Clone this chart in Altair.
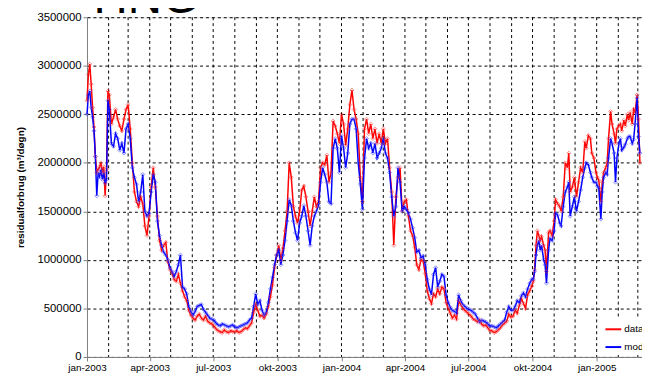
import altair as alt
import pandas as pd

# day offsets from 2003-01-01
days = [0, 2, 4, 6, 8, 10, 12, 14, 16, 18, 20, 22, 24, 26, 28, 30,
        32, 35, 38, 41, 44, 47, 50, 53, 56, 59,
        62, 65, 68, 71, 74, 77, 80, 83, 86, 89,
        92, 95, 98, 101, 104, 107, 110, 113, 116, 119,
        122, 125, 128, 131, 134, 137, 140, 143, 146, 149,
        152, 155, 158, 161, 164, 167, 170, 173, 176, 179,
        182, 185, 188, 191, 194, 197, 200, 203, 206, 209,
        212, 215, 218, 221, 224, 227, 230, 233, 236, 239, 242,
        245, 248, 251, 254, 257, 260, 263, 266, 269, 272,
        275, 278, 281, 284, 287, 290, 293, 296, 299, 302,
        305, 308, 311, 314, 317, 320, 323, 326, 329, 332,
        335, 338, 341, 344, 347, 350, 353, 356, 359, 362,
        365, 368, 371, 374, 377, 380, 383, 386, 389, 392, 395,
        398, 401, 404, 407, 410, 413, 416, 419, 422,
        425, 428, 431, 434, 437, 440, 443, 446, 449, 452, 455,
        458, 461, 464, 467, 470, 473, 476, 479, 482, 485,
        488, 491, 494, 497, 500, 503, 506, 509, 512, 515,
        518, 521, 524, 527, 530, 533, 536, 539, 542, 545,
        548, 551, 554, 557, 560, 563, 566, 569, 572, 575,
        578, 581, 584, 587, 590, 593, 596, 599, 602, 605, 608,
        611, 614, 617, 620, 623, 626, 629, 632, 635, 638,
        640, 642, 644, 646, 648, 650, 652, 655, 657, 659, 662, 664, 667, 670,
        672, 675, 678, 680, 683, 686, 689, 691, 693, 696, 699,
        702, 705, 708, 711, 714, 716, 719, 722, 724, 727, 730,
        732, 734, 737, 739, 741, 744, 746, 748, 751, 753, 756, 758, 760,
        763, 765, 767, 770, 772, 775, 777, 779, 782, 784, 786, 789, 791, 793]

# values in thousands of m3/døgn
data_k = [2640, 2910, 3017, 2810, 2570, 2370, 2065, 1900, 1930, 1960, 2000, 1900, 1960, 1660, 1930, 2740,
          2700, 2400, 2470, 2550, 2450, 2380, 2330, 2450, 2550, 2600,
          2350, 2000, 1700, 1600, 1550, 1650, 1580, 1350, 1250, 1450,
          1750, 1950, 1750, 1450, 1200, 1100, 1150, 1180, 980, 900,
          860, 800, 780, 850, 760, 680, 620, 580, 480, 430,
          400, 380, 420, 440, 400, 380, 420, 370, 350, 340,
          320, 290, 270, 260, 250, 280, 260, 250, 270, 260,
          260, 270, 250, 260, 280, 300, 290, 320, 350, 460, 540,
          480, 420, 430, 400, 440, 520, 620, 740, 920, 1050,
          1150, 1000, 1120, 1300, 1500, 2000, 1850, 1550, 1450, 1380,
          1500, 1720, 1760, 1650, 1500, 1350, 1500, 1650, 1550, 1600,
          1950, 2000, 1980, 2080, 1800, 1900, 2430, 2380, 2300, 2200,
          2500, 2400, 2180, 2350, 2600, 2750, 2550, 2450, 2300, 1850, 1600,
          2350, 2450, 2300, 2400, 2250, 2350, 2200, 2300, 2200,
          2350, 2200, 2250, 1950, 1700, 1150, 1650, 1850, 1950, 1500, 1600,
          1620, 1450, 1300, 1250, 1130, 950, 900, 1000, 990, 860,
          680, 600, 550, 650, 620, 700, 650, 720, 700, 560,
          500, 450, 400, 430, 390, 580, 540, 500, 480, 460,
          440, 420, 390, 380, 360, 380, 340, 320, 330, 300,
          270, 270, 250, 260, 280, 300, 330, 350, 370, 440, 410,
          420, 480, 450, 530, 600, 550, 500, 640, 680, 730,
          780, 900, 1150, 1300, 1250, 1200, 1240, 1150, 1100, 880, 1280, 1300, 1250, 1400,
          1620, 1580, 1550, 1500, 1650, 2000, 1950, 2100, 1700, 1750, 1850,
          1650, 1800, 1950, 1900, 2220, 2150, 2280, 2250, 2100, 2050, 1900,
          1850, 1820, 1600, 1800, 1900, 1950, 2000, 2250, 2530, 2400, 2300, 2200, 2350,
          2380, 2400, 2330, 2440, 2380, 2500, 2440, 2520, 2400, 2550, 2520, 2700, 2450, 2000]

model_k = [2500, 2700, 2740, 2570, 2470, 2330, 2065, 1660, 1900, 1860, 1930, 1830, 1900, 1790, 1830, 2640,
           2550, 2200, 2170, 2300, 2250, 2130, 2200, 2100, 2350, 2400,
           2250, 1950, 1850, 1780, 1600, 1700, 1880, 1500, 1450, 1480,
           1700, 1880, 1800, 1400, 1250, 1150, 1080, 1050, 1000, 920,
           880, 830, 880, 950, 1050, 720, 700, 650, 520, 470,
           430, 470, 520, 530, 540, 490, 460, 430, 400, 390,
           380, 350, 330, 320, 340, 330, 320, 310, 320, 330,
           310, 300, 310, 320, 330, 340, 350, 380, 400, 520, 650,
           540, 580, 480, 430, 460, 560, 700, 820, 950, 1050,
           1100, 950, 1050, 1200, 1400, 1620, 1560, 1400, 1280, 1200,
           1380, 1450, 1560, 1450, 1300, 1150, 1350, 1450, 1500, 1560,
           1800, 1950, 1880, 1800, 1600, 1580, 2150, 2250, 2150, 1900,
           2280, 2150, 1950, 2100, 2400, 2450, 2450, 2350, 2000, 1780, 1520,
           2050, 2250, 2150, 2200, 2100, 2200, 2050, 2100, 2150,
           2250, 2100, 2050, 1900, 1650, 1450, 1550, 1950, 1800, 1500, 1550,
           1520, 1480, 1420, 1330, 1230, 1080, 1100, 1020, 1040, 950,
           800, 700, 640, 850, 920, 720, 780, 850, 830, 640,
           560, 510, 480, 470, 450, 640, 580, 540, 520, 500,
           490, 480, 460, 440, 400, 360, 380, 370, 360, 340,
           320, 320, 310, 300, 320, 340, 360, 380, 460, 520, 480,
           480, 520, 580, 560, 630, 660, 620, 700, 760, 800,
           800, 880, 1050, 1150, 1200, 1100, 1150, 1000, 950, 760, 1100, 1220, 1200, 1300,
           1480, 1460, 1380, 1350, 1550, 1700, 1750, 1800, 1450, 1550, 1650,
           1500, 1600, 1720, 1850, 1950, 2000, 1980, 1900, 1850, 1800, 1800,
           1760, 1740, 1420, 1700, 1850, 1900, 1880, 2050, 2250, 2200, 2100, 1800, 2050,
           2200, 2250, 2130, 2160, 2190, 2250, 2270, 2270, 2200, 2240, 2400, 2670, 2270, 2100]

series_names = ["data", "model"]
series_colors = ["#ff0000", "#0000ff"]
y_ticks = [0, 500000, 1000000, 1500000, 2000000, 2500000, 3000000, 3500000]
quarter_starts = ["2003-01-01", "2003-04-01", "2003-07-01", "2003-10-01", "2004-01-01",
                  "2004-04-01", "2004-07-01", "2004-10-01", "2005-01-01"]
month_starts = ["2003-02-01", "2003-03-01", "2003-04-01", "2003-05-01", "2003-06-01", "2003-07-01",
                "2003-08-01", "2003-09-01", "2003-10-01", "2003-11-01", "2003-12-01", "2004-01-01",
                "2004-02-01", "2004-03-01", "2004-04-01", "2004-05-01", "2004-06-01", "2004-07-01",
                "2004-08-01", "2004-09-01", "2004-10-01", "2004-11-01", "2004-12-01", "2005-01-01",
                "2005-02-01", "2005-03-01"]

start = pd.Timestamp("2003-01-01")
dates = [start + pd.Timedelta(days=d) for d in days]
df = pd.concat([
    pd.DataFrame({"date": dates, "value": [v * 1000 for v in data_k], "series": "data", "order": 0}),
    pd.DataFrame({"date": dates, "value": [v * 1000 for v in model_k], "series": "model", "order": 1}),
])
months_df = pd.DataFrame({"date": pd.to_datetime(month_starts)})


def to_dt(s):
    t = pd.Timestamp(s)
    return alt.DateTime(year=t.year, month=t.month, date=t.day)


label_expr = ("['jan','feb','mar','apr','maj','jun','jul','aug','sep','okt','nov','dec'][month(datum.value)]"
              " + '-' + year(datum.value)")

x_scale = alt.Scale(domain=[alt.DateTime(year=2003, month=1, date=1),
                            alt.DateTime(year=2005, month=3, date=7)])
x_enc = alt.X("date:T", scale=x_scale,
              axis=alt.Axis(values=[to_dt(s) for s in quarter_starts], labelExpr=label_expr, title=None,
                            grid=False,
                            domainColor="#808080", tickColor="#808080", tickSize=4,
                            labelFontSize=10, labelFont="Liberation Sans", labelColor="#000000",
                            labelPadding=2, labelOverlap=False, labelFlush=False))
y_enc = alt.Y("value:Q",
              scale=alt.Scale(domain=[0, 3500000], nice=False),
              axis=alt.Axis(values=y_ticks, format="d", title="residualforbrug (m³/døgn)",
                            titleFontWeight="bold", titleFontSize=10, titleFont="Liberation Sans",
                            titleColor="#000000", titlePadding=12,
                            grid=True, gridDash=[3, 3], gridColor="#000000", gridWidth=1,
                            domainColor="#808080", tickColor="#808080", tickSize=4,
                            labelFontSize=11.5, labelFont="Liberation Sans", labelColor="#000000",
                            labelPadding=2))

vgrid = alt.Chart(months_df).mark_rule(strokeDash=[3, 3], color="#000000", strokeWidth=1).encode(
    x=alt.X("date:T", scale=x_scale)
)

lines = alt.Chart(df).mark_line(strokeWidth=1.5).encode(
    x=x_enc, y=y_enc,
    color=alt.Color("series:N", scale=alt.Scale(domain=series_names, range=series_colors),
                    legend=alt.Legend(title=None, orient="none", legendX=521, legendY=304,
                                      symbolType="stroke", symbolSize=256, symbolStrokeWidth=2,
                                      labelFontSize=10, labelFont="Liberation Sans",
                                      labelColor="#000000", fillColor="white", padding=3,
                                      rowPadding=4, labelOffset=2)),
    order="order:Q",
)

points = alt.Chart(df).mark_point(shape="diamond", size=16, filled=False, strokeWidth=1, opacity=0.6).encode(
    x="date:T", y="value:Q",
    stroke=alt.Stroke("series:N", scale=alt.Scale(domain=series_names, range=["#ff4444", "#4444ff"]),
                      legend=None),
)

title_df = pd.DataFrame({"t": ["HNG"]})
title = alt.Chart(title_df).mark_text(fontSize=48, font="Liberation Sans", baseline="alphabetic",
                                      align="center", color="#000000").encode(
    text="t:N", x=alt.value(60), y=alt.value(-4))

chart = alt.layer(vgrid, lines, points, title).properties(
    width=562, height=344,
    autosize=alt.AutoSizeParams(type="none"),
    padding={"left": 80, "top": 7, "right": 0, "bottom": 21},
).configure_view(stroke="#808080").configure(background="white")

chart.save("out.html", embed_options={"renderer": "svg", "actions": False})
